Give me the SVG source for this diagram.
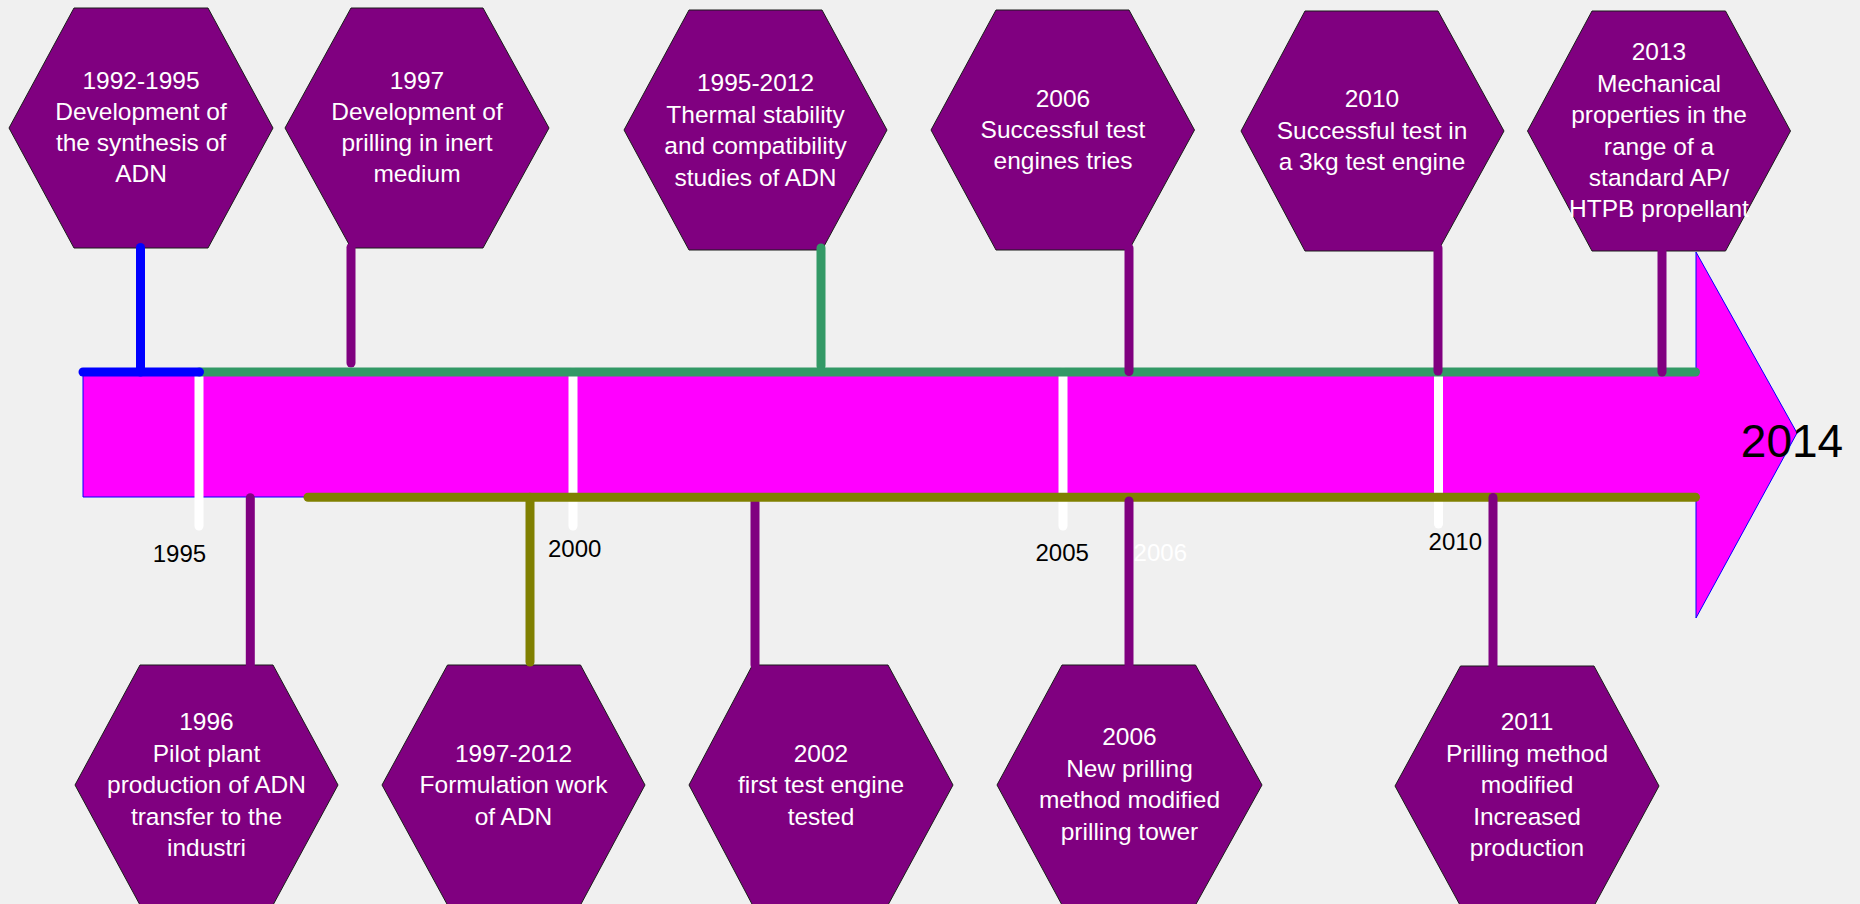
<svg xmlns="http://www.w3.org/2000/svg" width="1860" height="904" viewBox="0 0 1860 904">
<style>
.hex{fill:#800080;stroke:#1a1a1a;stroke-width:1}
.ht{font-family:"Liberation Sans",Arial,sans-serif;font-size:24.5px;fill:#ffffff;text-anchor:middle}
.yl{font-family:"Liberation Sans",Arial,sans-serif;font-size:24px;fill:#000000;text-anchor:middle}
.ln{stroke-width:9;stroke-linecap:round;fill:none}
.tick{stroke:#ffffff}
.pu{stroke:#800080}
.gr{stroke:#339966}
.bl{stroke:#0000ff}
.ol{stroke:#808000}
</style>
<rect x="0" y="0" width="1860" height="904" fill="#f0f0f0"/>
<g id="arrow">
<polygon points="83,372 1696,372 1696,252 1797,433 1696,618 1696,497 83,497" fill="#ff00ff" stroke="#0000ff" stroke-width="1"/>
</g>
<g id="ticks">
<line class="ln tick" x1="199" y1="372" x2="199" y2="526"/>
<line class="ln tick" x1="573" y1="372" x2="573" y2="526"/>
<line class="ln tick" x1="1063" y1="372" x2="1063" y2="526"/>
<line class="ln tick" x1="1438.5" y1="372" x2="1438.5" y2="524"/>
</g>
<g id="n1"><polygon class="hex" points="9,128 74,8 208,8 273,128 208,248 74,248"/>
<text class="ht"><tspan x="141" y="89">1992-1995</tspan><tspan x="141" y="120">Development of</tspan><tspan x="141" y="151">the synthesis of</tspan><tspan x="141" y="182">ADN</tspan></text></g>
<g id="n2"><polygon class="hex" points="285,128 351,8 483,8 549,128 483,248 351,248"/>
<text class="ht"><tspan x="417" y="89">1997</tspan><tspan x="417" y="120">Development of</tspan><tspan x="417" y="151">prilling in inert</tspan><tspan x="417" y="182">medium</tspan></text></g>
<g id="n3"><polygon class="hex" points="624,130 689,10 822,10 887,130 822,250 689,250"/>
<text class="ht"><tspan x="755.5" y="91">1995-2012</tspan><tspan x="755.5" y="122.5">Thermal stability</tspan><tspan x="755.5" y="154">and compatibility</tspan><tspan x="755.5" y="185.5">studies of ADN</tspan></text></g>
<g id="n4"><polygon class="hex" points="931,130 996,10 1129,10 1194.5,130 1129,250 996,250"/>
<text class="ht"><tspan x="1063" y="106.7">2006</tspan><tspan x="1063" y="137.7">Successful test</tspan><tspan x="1063" y="168.7">engines tries</tspan></text></g>
<g id="n5"><polygon class="hex" points="1241,131 1305,11 1438,11 1504,131 1438,251 1305,251"/>
<text class="ht"><tspan x="1372" y="107.3">2010</tspan><tspan x="1372" y="138.7">Successful test in</tspan><tspan x="1372" y="170">a 3kg test engine</tspan></text></g>
<g id="n6"><polygon class="hex" points="1527.5,131 1592,11 1725.5,11 1790.5,131 1725.5,251 1592,251"/>
<text class="ht"><tspan x="1659" y="60">2013</tspan><tspan x="1659" y="91.5">Mechanical</tspan><tspan x="1659" y="123">properties in the</tspan><tspan x="1659" y="154.5">range of a</tspan><tspan x="1659" y="186">standard AP/</tspan><tspan x="1659" y="217">HTPB propellant</tspan></text></g>
<g id="n7"><polygon class="hex" points="75,785 140,665 273,665 338,785 273,905 140,905"/>
<text class="ht"><tspan x="206.5" y="730">1996</tspan><tspan x="206.5" y="761.5">Pilot plant</tspan><tspan x="206.5" y="793">production of ADN</tspan><tspan x="206.5" y="824.5">transfer to the</tspan><tspan x="206.5" y="856">industri</tspan></text></g>
<g id="n8"><polygon class="hex" points="382,785 447.5,665 580.5,665 645,785 580.5,905 447.5,905"/>
<text class="ht"><tspan x="513.5" y="761.7">1997-2012</tspan><tspan x="513.5" y="793">Formulation work</tspan><tspan x="513.5" y="824.5">of ADN</tspan></text></g>
<g id="n9"><polygon class="hex" points="689,785 752.5,665 888,665 953,785 888,905 752.5,905"/>
<text class="ht"><tspan x="821" y="761.7">2002</tspan><tspan x="821" y="793">first test engine</tspan><tspan x="821" y="824.5">tested</tspan></text></g>
<g id="n10"><polygon class="hex" points="997,785 1062,665 1195.5,665 1262,785 1195.5,905 1062,905"/>
<text class="ht"><tspan x="1129.5" y="745">2006</tspan><tspan x="1129.5" y="776.5">New prilling</tspan><tspan x="1129.5" y="808">method modified</tspan><tspan x="1129.5" y="839.5">prilling tower</tspan></text></g>
<g id="n11"><polygon class="hex" points="1395,786 1460.5,666 1594,666 1659,786 1594,906 1460.5,906"/>
<text class="ht"><tspan x="1527" y="730">2011</tspan><tspan x="1527" y="761.5">Prilling method</tspan><tspan x="1527" y="793">modified</tspan><tspan x="1527" y="824.5">Increased</tspan><tspan x="1527" y="856">production</tspan></text></g>
<g id="connectors">
<line class="ln pu" x1="351" y1="247.5" x2="351" y2="363"/>
<line class="ln gr" x1="821" y1="248" x2="821" y2="366"/>
<line class="ln gr" x1="199.5" y1="372" x2="1695.5" y2="372"/>
<line class="ln bl" x1="83" y1="372" x2="199.5" y2="372"/>
<line class="ln bl" x1="140.5" y1="247.5" x2="140.5" y2="372"/>
<line class="ln pu" x1="755" y1="502" x2="755" y2="665"/>
<line class="ln ol" x1="308" y1="497.3" x2="1695.5" y2="497.3"/>
<line class="ln ol" x1="530" y1="497.3" x2="530" y2="662"/>
<line class="ln pu" x1="1129" y1="248" x2="1129" y2="371.5"/>
<line class="ln pu" x1="1438" y1="248" x2="1438" y2="371"/>
<line class="ln pu" x1="1662" y1="251" x2="1662" y2="372"/>
<line class="ln pu" x1="250.3" y1="497.7" x2="250.3" y2="665"/>
<line class="ln pu" x1="1129" y1="501" x2="1129" y2="665"/>
<line class="ln pu" x1="1493" y1="497.5" x2="1493" y2="666"/>
</g>
<g id="labels">
<text class="yl" x="179.4" y="562">1995</text>
<text class="yl" x="574.7" y="557.3">2000</text>
<text class="yl" x="1062.2" y="561">2005</text>
<text class="yl" x="1160.3" y="561" fill="#ffffff" style="fill:#ffffff">2006</text>
<text class="yl" x="1455.3" y="550">2010</text>
<text x="1792" y="456.5" font-family="Liberation Sans, Arial, sans-serif" font-size="46" fill="#000000" text-anchor="middle">2014</text>
</g>
</svg>
